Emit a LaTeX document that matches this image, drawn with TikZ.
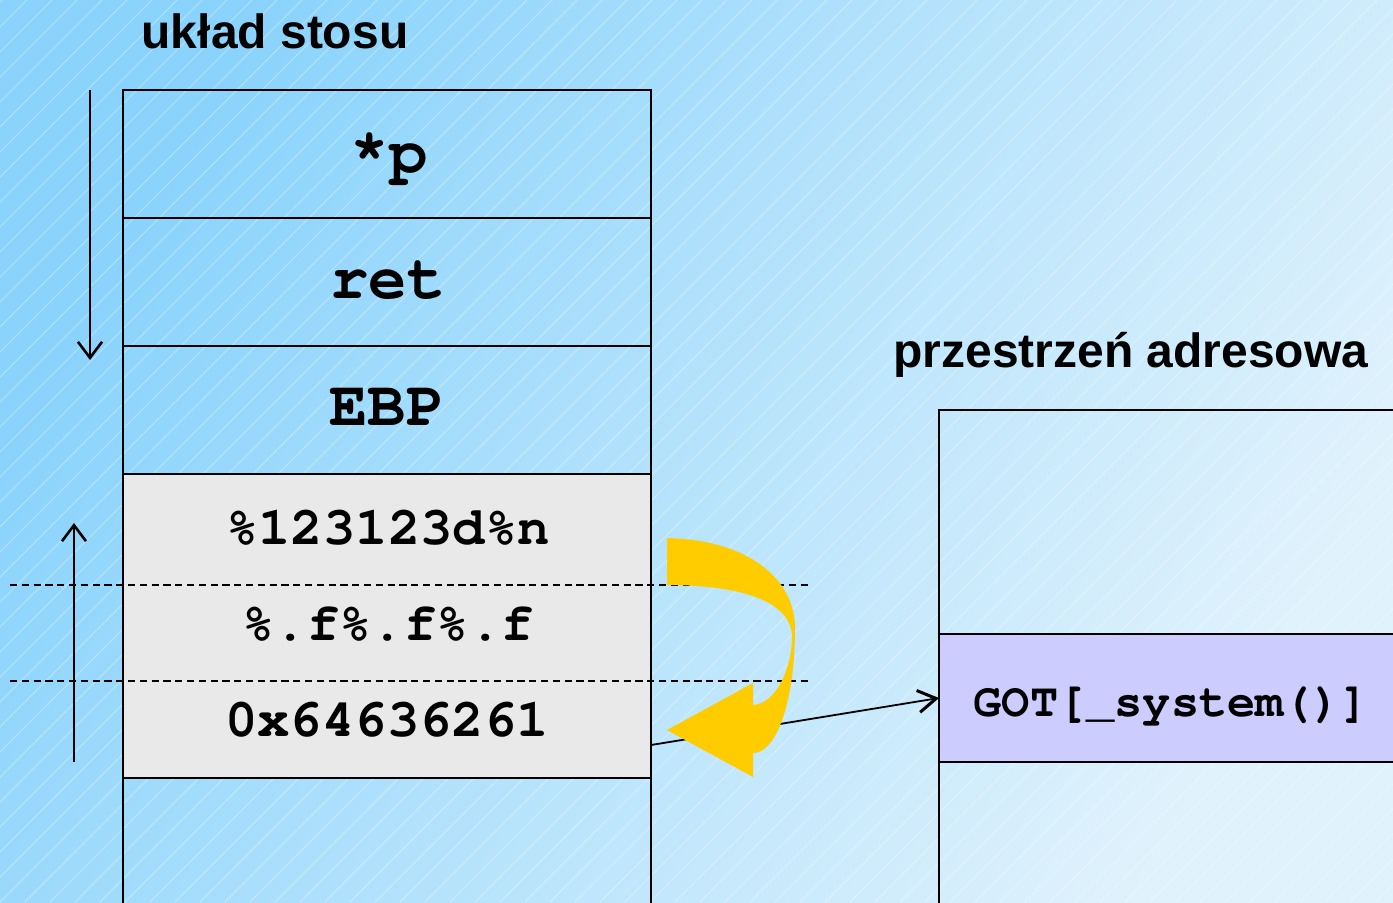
\documentclass[tikz,border=0pt]{standalone}
\usepackage{fontspec}
\newfontfamily\headfont{Liberation Sans}
\newfontfamily\codefont{TeX Gyre Cursor}
\usetikzlibrary{arrows.meta}
\definecolor{bgdark}{HTML}{8AD3FC}
\definecolor{bglight}{HTML}{E0F2FC}
\definecolor{cellgray}{HTML}{E9E9E9}
\definecolor{gotfill}{HTML}{CCCCFF}
\definecolor{flowyellow}{HTML}{FFCC00}
\tikzset{
  cell/.style={draw=black, line width=1.15pt, minimum width=264pt, inner sep=0pt, outer sep=0pt},
  heading/.style={font=\headfont\bfseries\fontsize{24}{28}\selectfont, anchor=base, inner sep=0pt},
  bigcode/.style={font=\codefont\bfseries\fontsize{32}{36}\selectfont, anchor=base, inner sep=0pt},
  code/.style={font=\codefont\bfseries\fontsize{27}{30}\selectfont, anchor=base, inner sep=0pt},
  gotcode/.style={font=\codefont\bfseries\fontsize{23.5}{28}\selectfont, anchor=base, inner sep=0pt},
  sep/.style={draw=black, line width=1.3pt, dash pattern=on 3.6pt off 2.3pt},
  growth/.style={line width=1.2pt, -{Straight Barb[length=8pt,width=12pt,line width=1.3pt]}},
  link/.style={line width=0.9pt, -{Straight Barb[length=9pt,width=11pt,line width=1.5pt]}}
}
\begin{document}
\begin{tikzpicture}[x=0.5pt, y=-0.5pt]
  \useasboundingbox (0,0) rectangle (1393,902);
  \clip (0,0) rectangle (1393,902);
  % background with faint diagonal ruling
  \shade[left color=bgdark, right color=bglight, shading angle=60] (0,0) rectangle (1393,902);
  \foreach \s in {-900,-875,...,1400} {
    \draw[white, opacity=0.35, line width=0.5pt] (\s,902) -- (\s+902,0);
  }

  % stack layout
  \node[heading] (stacktitle) at (275,48) {układ stosu};
  \node[cell, minimum height=64pt] (cp)  at (387,154) {};
  \node[cell, minimum height=64pt] (cret) at (387,282) {};
  \node[cell, minimum height=64pt] (cebp) at (387,410) {};
  \node[cell, fill=cellgray, minimum height=152pt] (cfmt) at (387,626) {};
  \node[cell, minimum height=72pt] (cfree) at (387,850) {};

  \node[bigcode] (tp)   at (389,172) {*p};
  \node[bigcode] (tret) at (388,298) {ret};
  \node[bigcode] (tebp) at (387,425) {EBP};
  \node[code] (tn)   at (388,544) {\%123123d\%n};
  \node[code] (tf)   at (388,640) {\%.f\%.f\%.f};
  \node[code] (taddr) at (387,736) {0x64636261};

  \coordinate (dashAl) at (10,585);  \coordinate (dashAr) at (810,585);
  \coordinate (dashBl) at (10,681);  \coordinate (dashBr) at (810,681);
  \draw[sep] (dashAl) -- (dashAr);
  \draw[sep] (dashBl) -- (dashBr);

  % growth directions
  \coordinate (downS) at (90,90);  \coordinate (downE) at (90,360);
  \coordinate (upS) at (74,762);   \coordinate (upE) at (74,523);
  \draw[growth] (downS) -- (downE);
  \draw[growth] (upS) -- (upE);

  % address space
  \node[heading] (spacetitle) at (1131,367) {przestrzeń adresowa};
  \node[cell, minimum width=240pt, minimum height=112pt, anchor=north west] (atop) at (939,410) {};
  \node[cell, fill=gotfill, minimum width=240pt, minimum height=64pt, anchor=north west] (got) at (939,634) {};
  \node[cell, minimum width=240pt, minimum height=80pt, anchor=north west] (abot) at (939,762) {};
  \node[gotcode] (tgot) at (1171,716) {GOT[\_system()]};

  % pointer into GOT
  \draw[link] ([yshift=-59.5pt]cfmt.east) -- (got.west);

  % overwrite flow
  \fill[flowyellow]
    (667,538) .. controls (750,540) and (795,580) .. (795,628)
    .. controls (795,700) and (777,753) .. (753,753)
    -- (753,777) -- (667,730) -- (753,683) -- (753,705)
    .. controls (778,703) and (792,665) .. (792,637)
    .. controls (792,603) and (745,585) .. (667,585) -- cycle;
\end{tikzpicture}
\end{document}
